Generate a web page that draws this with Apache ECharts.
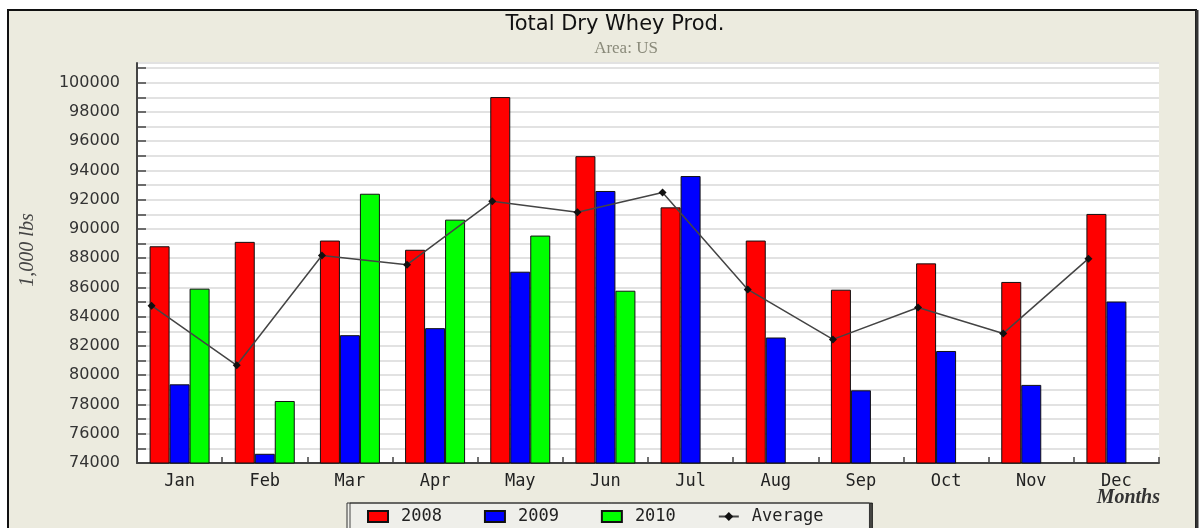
<!DOCTYPE html>
<html>
<head>
<meta charset="utf-8">
<script src="https://cdn.jsdelivr.net/npm/echarts@6/dist/echarts.min.js"></script>
<style>html,body{margin:0;padding:0;background:#fff;}#c{width:1200px;height:528px;}</style>
</head>
<body>
<div id="c"></div>
<script>
const months = ['Jan','Feb','Mar','Apr','May','Jun','Jul','Aug','Sep','Oct','Nov','Dec'];
const v2008 = [88820, 89120, 89210, 88580, 99020, 94980, 91480, 89210, 85850, 87650, 86380, 91030];
const v2009 = [79380, 74630, 82740, 83220, 87080, 92600, 93620, 82580, 78970, 81660, 79340, 85040];
const v2010 = [85920, 78240, 92410, 90640, 89550, 85780, null, null, null, null, null, null];
const average = [84760, 80680, 88190, 87560, 91890, 91140, 92500, 85870, 82450, 84630, 82860, 87970];
const yMin = 74000, yMax = 101350, yStep = 1000, yLabelStep = 2000;

const chart = echarts.init(document.getElementById('c'), null, {renderer: 'canvas'});
const barStyle = (c) => ({color: c, borderColor: '#111', borderWidth: 1});
const option = {
  backgroundColor: '#ffffff',
  animation: false,
  graphic: [
    {type: 'rect', z: -100, shape: {x: 8, y: 10, width: 1188, height: 540},
     style: {fill: '#ECEBDF', stroke: '#111', lineWidth: 2}},
    {type: 'line', z: 100, shape: {x1: 1197, y1: 10, x2: 1197, y2: 528},
     style: {stroke: '#333', lineWidth: 3}},
    {type: 'text', z: 100, x: 1160, y: 498,
     style: {text: 'Months', font: 'italic bold 20px "Liberation Serif"', fill: '#333',
             align: 'right', verticalAlign: 'middle'}},
    {type: 'text', z: 100, x: 28, y: 250, rotation: Math.PI / 2,
     style: {text: '1,000 lbs', font: 'italic 20px "Liberation Serif"', fill: '#444',
             align: 'center', verticalAlign: 'middle'}}
  ],
  title: [
    {text: 'Total Dry Whey Prod.', left: 610, top: 9, textAlign: 'center',
     textStyle: {fontFamily: 'DejaVu Sans', fontSize: 21, fontWeight: 'normal', color: '#111'}},
    {text: 'Area: US', left: 621, top: 35, textAlign: 'center',
     textStyle: {fontFamily: 'Liberation Serif', fontSize: 17, fontWeight: 'normal', color: '#8a8a7a'}}
  ],
  legend: {
    left: 347, top: 503,
    padding: [5, 46, 5, 20],
    itemWidth: 20, itemHeight: 11, itemGap: 42,
    backgroundColor: '#efefea', borderColor: '#333', borderWidth: 1,
    shadowColor: 'rgba(0,0,0,0.7)', shadowOffsetX: 3, shadowOffsetY: 0, shadowBlur: 0,
    textStyle: {fontFamily: 'DejaVu Sans Mono', fontSize: 17, color: '#222', padding: [0, 0, 0, 8]},
    data: [{name: '2008', icon: 'rect'}, {name: '2009', icon: 'rect'}, {name: '2010', icon: 'rect'}, {name: 'Average'}]
  },
  grid: [
    {left: 137, right: 41, top: 63, bottom: 65, show: true, backgroundColor: '#ffffff', borderWidth: 0},
    {left: 109, right: 69, top: 63, bottom: 65, show: false}
  ],
  xAxis: [
    {type: 'category', gridIndex: 0, data: months,
     axisLine: {lineStyle: {color: '#444', width: 2}},
     axisTick: {show: true, inside: true, length: 6, interval: 0, lineStyle: {color: '#444', width: 1.5}},
     axisLabel: {fontFamily: 'DejaVu Sans Mono', fontSize: 17, color: '#222', margin: 10, interval: 0},
     splitLine: {show: false}},
    {type: 'category', gridIndex: 1, data: months, show: false}
  ],
  yAxis: [
    {type: 'value', gridIndex: 0, min: yMin, max: yMax, interval: yStep,
     axisLine: {show: true, lineStyle: {color: '#444', width: 2}},
     axisTick: {show: true, inside: true, length: 9, lineStyle: {color: '#444', width: 1.5}},
     axisLabel: {fontFamily: 'DejaVu Sans', fontSize: 16, color: '#333', margin: 17,
       showMaxLabel: false,
       formatter: (v) => (v % yLabelStep === 0 ? String(v) : '')},
     splitLine: {show: true, lineStyle: {color: '#e2e2e2', width: 2}}},
    {type: 'value', gridIndex: 1, min: yMin, max: yMax, show: false, splitLine: {show: false}}
  ],
  series: [
    {name: '2008', type: 'bar', data: v2008, barWidth: 20, barGap: '0%', itemStyle: barStyle('#ff0000')},
    {name: '2009', type: 'bar', data: v2009, barWidth: 20, barGap: '0%', itemStyle: barStyle('#0000ff')},
    {name: '2010', type: 'bar', data: v2010, barWidth: 20, barGap: '0%', itemStyle: barStyle('#00ff00')},
    {name: 'Average', type: 'line', xAxisIndex: 1, yAxisIndex: 1, data: average, z: 5,
     symbol: 'diamond', symbolSize: 8, itemStyle: {color: '#111'},
     lineStyle: {color: '#444', width: 1.5}}
  ]
};
chart.setOption(option);
</script>
</body>
</html>
